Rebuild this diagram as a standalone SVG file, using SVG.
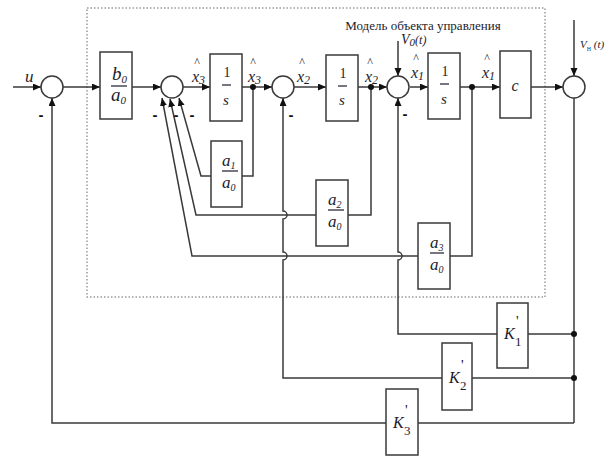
<svg xmlns="http://www.w3.org/2000/svg" width="608" height="457" viewBox="0 0 608 457">
<style>
.ln{fill:none;stroke:#3a3a3a;stroke-width:1.5}
.blk{fill:#fff;stroke:#3a3a3a;stroke-width:1.5}
.sum{fill:#fff;stroke:#3a3a3a;stroke-width:1.5}
.dot{fill:#111}
.t{font-family:"Liberation Serif",serif;font-style:italic;fill:#1c1c2c}
.n{font-family:"Liberation Serif",serif;fill:#1c1c2c}
.hat{font-family:"Liberation Serif",serif;fill:#1c1c2c;font-size:12px;text-anchor:middle}
.prime{font-family:"Liberation Serif",serif;fill:#1c1c2c;font-size:15px}
.bar{stroke:#1c1c2c;stroke-width:1.2}
.minus{font-family:"Liberation Sans",sans-serif;font-weight:bold;font-size:15px;fill:#111}
.frame{fill:none;stroke:#9a9a9a;stroke-width:1.5;stroke-dasharray:1.5 2}
</style>
<defs>
<marker id="ar" markerUnits="userSpaceOnUse" markerWidth="9" markerHeight="8" refX="8" refY="3.5" orient="auto">
<path d="M0,0 L8,3.5 L0,7 z" fill="#111"/>
</marker>
</defs>
<rect width="608" height="457" fill="#fff"/>

<g id="frame">
<rect class="frame" x="87" y="8" width="458" height="289"/>
<text class="n" x="423" y="30" font-size="13" text-anchor="middle">Модель объекта управления</text>
</g>

<g id="connectors">
<line class="ln" x1="13" y1="87" x2="41" y2="87" marker-end="url(#ar)"/>
<line class="ln" x1="63" y1="87" x2="100" y2="87" marker-end="url(#ar)"/>
<line class="ln" x1="132" y1="87" x2="161" y2="87" marker-end="url(#ar)"/>
<line class="ln" x1="183" y1="87" x2="210" y2="87" marker-end="url(#ar)"/>
<line class="ln" x1="242" y1="87" x2="272" y2="87" marker-end="url(#ar)"/>
<line class="ln" x1="294" y1="87" x2="326" y2="87" marker-end="url(#ar)"/>
<line class="ln" x1="358" y1="87" x2="387" y2="87" marker-end="url(#ar)"/>
<line class="ln" x1="410" y1="87" x2="428" y2="87" marker-end="url(#ar)"/>
<line class="ln" x1="460" y1="87" x2="500" y2="87" marker-end="url(#ar)"/>
<line class="ln" x1="531" y1="87" x2="563" y2="87" marker-end="url(#ar)"/>
<line class="ln" x1="398" y1="41" x2="398" y2="76" marker-end="url(#ar)"/>
<line class="ln" x1="574" y1="20" x2="574" y2="76" marker-end="url(#ar)"/>
<polyline class="ln" points="253,87 253,176 242,176"/>
<polyline class="ln" points="211,176 201,176 179,98" marker-end="url(#ar)"/>
<polyline class="ln" points="371,87 371,215 348,215"/>
<polyline class="ln" points="316,215 196,215 170,99" marker-end="url(#ar)"/>
<polyline class="ln" points="472,87 472,256 450,256"/>
<polyline class="ln" points="418,256 192,256 162,98" marker-end="url(#ar)"/>
<line class="ln" x1="574" y1="98" x2="574" y2="423"/>
<polyline class="ln" points="574,334 528,334"/>
<path class="ln" d="M497,334 H398 V260 A4 4 0 0 0 398,252 V98" marker-end="url(#ar)"/>
<polyline class="ln" points="574,378 472,378"/>
<path class="ln" d="M442,378 H283 V260 A4 4 0 0 0 283,252 V219 A4 4 0 0 0 283,211 V98" marker-end="url(#ar)"/>
<polyline class="ln" points="574,423 418,423"/>
<polyline class="ln" points="386,423 52,423 52,98" marker-end="url(#ar)"/>
<circle class="dot" cx="253" cy="87" r="3"/>
<circle class="dot" cx="371" cy="87" r="3"/>
<circle class="dot" cx="472" cy="87" r="3"/>
<circle class="dot" cx="574" cy="334" r="3"/>
<circle class="dot" cx="574" cy="378" r="3"/>
</g>

<g id="sum1"><circle class="sum" cx="52" cy="87" r="11"/><text class="minus" x="41" y="120" text-anchor="middle">-</text></g>
<g id="sum2"><circle class="sum" cx="172" cy="87" r="11"/>
<text class="minus" x="155" y="120" text-anchor="middle">-</text>
<text class="minus" x="176" y="120" text-anchor="middle">-</text>
<text class="minus" x="192" y="120" text-anchor="middle">-</text></g>
<g id="sum3"><circle class="sum" cx="283" cy="87" r="11"/><text class="minus" x="291" y="120" text-anchor="middle">-</text></g>
<g id="sum4"><circle class="sum" cx="398" cy="87" r="11"/><text class="minus" x="405" y="119" text-anchor="middle">-</text></g>
<g id="sum5"><circle class="sum" cx="574" cy="87" r="11"/></g>

<g id="label-u"><text class="t" x="25" y="82" font-size="17">u</text></g>

<g id="block-b0a0">
<rect class="blk" x="100" y="52" width="32" height="67"/>
<text class="t" x="112" y="80" font-size="19">b<tspan font-size="11" dy="3">0</tspan></text>
<line class="bar" x1="111" y1="86" x2="127" y2="86"/>
<text class="t" x="111" y="101" font-size="19">a<tspan font-size="11" dy="3">0</tspan></text>
</g>

<g id="block-int1">
<rect class="blk" x="210" y="54" width="32" height="67"/>
<text class="n" x="227" y="77" font-size="14" text-anchor="middle">1</text>
<line class="bar" x1="222" y1="85" x2="231" y2="85"/>
<text class="t" x="226" y="105" font-size="15" text-anchor="middle">s</text>
</g>

<g id="block-int2">
<rect class="blk" x="326" y="55" width="32" height="66"/>
<text class="n" x="343" y="78" font-size="14" text-anchor="middle">1</text>
<line class="bar" x1="338" y1="86" x2="347" y2="86"/>
<text class="t" x="342" y="105" font-size="15" text-anchor="middle">s</text>
</g>

<g id="block-int3">
<rect class="blk" x="428" y="53" width="32" height="66"/>
<text class="n" x="445" y="76" font-size="14" text-anchor="middle">1</text>
<line class="bar" x1="440" y1="84" x2="449" y2="84"/>
<text class="t" x="444" y="104" font-size="15" text-anchor="middle">s</text>
</g>

<g id="block-c">
<rect class="blk" x="500" y="51" width="31" height="67"/>
<text class="t" x="515" y="91" font-size="16" text-anchor="middle">c</text>
</g>

<g id="block-a1a0">
<rect class="blk" x="211" y="141" width="31" height="66"/>
<text class="t" x="222" y="166" font-size="17">a<tspan font-size="10" dy="3">1</tspan></text>
<line class="bar" x1="222" y1="171" x2="238" y2="171"/>
<text class="t" x="222" y="188" font-size="17">a<tspan font-size="10" dy="3">0</tspan></text>
</g>

<g id="block-a2a0">
<rect class="blk" x="316" y="180" width="32" height="66"/>
<text class="t" x="328" y="205" font-size="17">a<tspan font-size="10" dy="3">2</tspan></text>
<line class="bar" x1="328" y1="210" x2="344" y2="210"/>
<text class="t" x="328" y="227" font-size="17">a<tspan font-size="10" dy="3">0</tspan></text>
</g>

<g id="block-a3a0">
<rect class="blk" x="418" y="223" width="32" height="66"/>
<text class="t" x="430" y="248" font-size="17">a<tspan font-size="10" dy="3">3</tspan></text>
<line class="bar" x1="430" y1="253" x2="444" y2="253"/>
<text class="t" x="430" y="270" font-size="17">a<tspan font-size="10" dy="3">0</tspan></text>
</g>

<g id="block-K1">
<rect class="blk" x="497" y="303" width="31" height="65"/>
<text class="t" x="504" y="339" font-size="16">K</text>
<text class="prime" x="516" y="326">'</text>
<text class="n" x="515" y="346" font-size="13">1</text>
</g>
<g id="block-K2">
<rect class="blk" x="442" y="343" width="30" height="67"/>
<text class="t" x="449" y="383" font-size="16">K</text>
<text class="prime" x="461" y="370">'</text>
<text class="n" x="460" y="390" font-size="13">2</text>
</g>
<g id="block-K3">
<rect class="blk" x="386" y="389" width="32" height="66"/>
<text class="t" x="393" y="428" font-size="16">K</text>
<text class="prime" x="405" y="415">'</text>
<text class="n" x="404" y="435" font-size="13">3</text>
</g>

<g id="state-labels">
<text class="hat" x="197" y="66">^</text>
<text class="t" x="192" y="82" font-size="16">x<tspan font-size="12" dy="2">3</tspan></text>
<text class="hat" x="253" y="66">^</text>
<text class="t" x="248" y="82" font-size="16">x<tspan font-size="12" dy="2">3</tspan></text>
<text class="hat" x="302" y="66">^</text>
<text class="t" x="297" y="82" font-size="16">x<tspan font-size="12" dy="2">2</tspan></text>
<text class="hat" x="370" y="66">^</text>
<text class="t" x="365" y="82" font-size="16">x<tspan font-size="12" dy="2">2</tspan></text>
<text class="hat" x="416" y="62" font-size="11">^</text>
<text class="t" x="411" y="78" font-size="16">x<tspan font-size="12" dy="2">1</tspan></text>
<text class="hat" x="487" y="62">^</text>
<text class="t" x="482" y="78" font-size="16">x<tspan font-size="12" dy="2">1</tspan></text>
</g>

<g id="label-V0">
<text class="t" x="401" y="44" font-size="14">V<tspan class="n" font-size="11" dy="2">0</tspan><tspan font-size="12" dy="-2">(t)</tspan></text>
</g>
<g id="label-Vn">
<text class="t" x="580" y="48" font-size="11">V<tspan font-size="8" dy="3" fill="#2050a0" font-style="normal">н</tspan><tspan font-size="11" dy="-3"> (t)</tspan></text>
</g>
</svg>
